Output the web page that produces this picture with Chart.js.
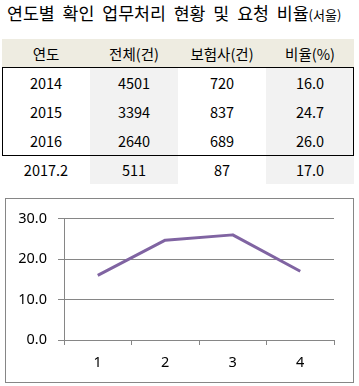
<!DOCTYPE html>
<html><head><meta charset="utf-8">
<script src="https://cdn.jsdelivr.net/npm/chart.js@4.4.1/dist/chart.umd.min.js"></script>
<style>
html,body{margin:0;padding:0;background:#fff}
body{width:359px;height:386px;position:relative;overflow:hidden;font-family:'Noto Sans CJK KR','Noto Sans',sans-serif;color:#000}
#title{position:absolute;left:7px;top:0px;font-size:17.3px;line-height:26px;white-space:nowrap;font-weight:400;word-spacing:4px}
#title span{font-size:13px}
.cell{position:absolute;display:flex;align-items:center;justify-content:center;font-size:14.5px;white-space:nowrap}
#box{position:absolute;left:2px;top:67px;width:352px;height:89px;border:1px solid #000;box-sizing:border-box}
#frame{position:absolute;left:5px;top:198px;width:349px;height:185px;border:1px solid #868686;box-sizing:border-box}
#frame canvas{display:block}
</style></head>
<body>
<div id="title">연도별 확인 업무처리 현황 및 요청 비율<span>(서울)</span></div>
<div id="tbl"></div>
<div id="box"></div>
<div id="frame"><canvas id="c" width="347" height="183"></canvas></div>
<script>
const headers = ['연도', '전체(건)', '보험사(건)', '비율(%)'];
const years = ['2014', '2015', '2016', '2017.2'];
const totals = [4501, 3394, 2640, 511];
const insurers = [720, 837, 689, 87];
const ratios = [16.0, 24.7, 26.0, 17.0];
const xLabels = ['1', '2', '3', '4'];

// table
const tbl = document.getElementById('tbl');
const colX = [2, 90, 178, 266], colW = 88;
const rowY = [39, 68, 97, 126, 155], rowH = [28, 29, 29, 29, 29];
const rows = [headers].concat(years.map((y, i) => [y, String(totals[i]), String(insurers[i]), ratios[i].toFixed(1)]));
rows.forEach((r, ri) => {
  r.forEach((t, ci) => {
    const d = document.createElement('div');
    d.className = 'cell';
    d.style.left = colX[ci] + 'px';
    d.style.top = rowY[ri] + 'px';
    d.style.width = colW + 'px';
    d.style.height = rowH[ri] + 'px';
    if (ri === 0) d.style.background = '#eeece1';
    else if (ci === 1 || ci === 3) d.style.background = '#f2f2f2';
    d.textContent = t;
    tbl.appendChild(d);
  });
});

const grey = '#868686';
new Chart(document.getElementById('c'), {
  type: 'line',
  data: {
    labels: xLabels,
    datasets: [{
      data: ratios,
      borderColor: '#8064a2',
      borderWidth: 3,
      pointRadius: 0,
      tension: 0,
      borderJoinStyle: 'round',
      borderCapStyle: 'butt'
    }]
  },
  options: {
    responsive: false,
    animation: false,
    events: [],
    layout: { padding: { top: 11, right: 19, left: 0, bottom: 0 } },
    plugins: { legend: { display: false }, tooltip: { enabled: false } },
    scales: {
      x: {
        offset: true,
        grid: { offset: true, drawOnChartArea: false, drawTicks: true, tickLength: 5, color: grey, lineWidth: 1 },
        border: { display: true, color: grey, width: 1 },
        ticks: { color: '#000', font: { family: "'Noto Sans', sans-serif", size: 14.5 }, padding: 9, maxRotation: 0 },
        afterFit: s => { s.height = 42; }
      },
      y: {
        min: 0, max: 30,
        ticks: { stepSize: 10, color: '#000', font: { family: "'Noto Sans', sans-serif", size: 14.5 }, padding: 11,
          callback: v => Number(v).toFixed(1) },
        grid: { color: grey, lineWidth: 1, tickLength: 6 },
        border: { display: true, color: grey, width: 1 },
        afterFit: s => { s.width = 58; }
      }
    }
  }
});
</script>
</body></html>
